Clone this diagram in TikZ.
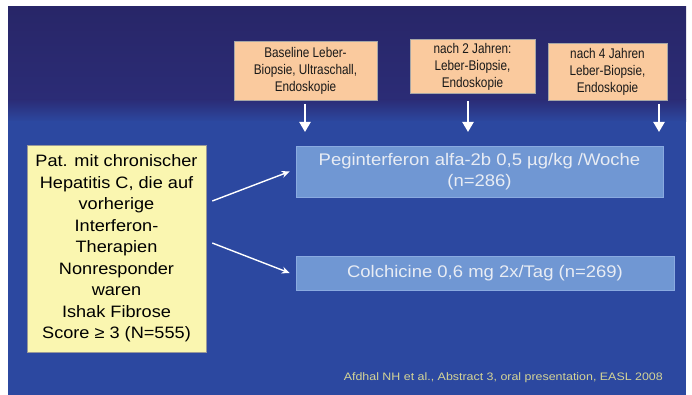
\documentclass[tikz,border=0pt]{standalone}
\usepackage{fontspec}
\setmainfont{Liberation Sans}
\newfontfamily\orfont[FakeStretch=0.84]{Liberation Sans}
\newfontfamily\widefont[FakeStretch=1.1]{Liberation Sans}
\newfontfamily\citefont[FakeStretch=1.15]{Liberation Sans}
\usetikzlibrary{arrows.meta,calc}
\definecolor{navytop}{RGB}{40,38,104}
\definecolor{navymid}{RGB}{43,44,118}
\definecolor{bluebot}{RGB}{44,72,160}
\definecolor{peach}{RGB}{250,202,158}
\definecolor{paleyellow}{RGB}{250,246,176}
\definecolor{boxblue}{RGB}{112,151,211}
\definecolor{boxblueedge}{RGB}{138,170,224}
\definecolor{citecol}{RGB}{212,212,150}
\definecolor{txtlight}{RGB}{232,236,244}
\tikzset{
  orbox/.style={draw=black!35, line width=0.5pt, fill=peach, align=center,
    inner sep=0pt, font=\orfont\fontsize{14}{17}\selectfont, text=black!90},
  ybox/.style={draw=black!40, line width=0.5pt, fill=paleyellow, align=center,
    inner sep=0pt, font=\widefont\fontsize{16.5}{21.5}\selectfont, text=black},
  bbox/.style={draw=boxblueedge, line width=0.6pt, fill=boxblue, align=center,
    inner sep=0pt, font=\widefont\fontsize{16.8}{21}\selectfont, text=txtlight},
  downarrow/.style={draw=white, line width=2.2pt, -{Triangle[width=11pt,length=10pt]}},
  diagarrow/.style={draw=white, line width=1.4pt, -{Stealth[width=7pt,length=8pt]}},
}
\begin{document}
\begin{tikzpicture}[x=1pt,y=-1pt]
\useasboundingbox (0,0) rectangle (692,395);
\fill[white] (0,0) rectangle (692,395);
% background
\shade[top color=navytop, bottom color=navymid] (8,7) rectangle (686,100);
\shade[top color=navymid, bottom color=bluebot] (8,99.5) rectangle (686,122);
\fill[bluebot] (8,121.5) rectangle (686,395);

% orange boxes
\node[orbox, minimum width=143pt, minimum height=59pt] (o1) at (305.5,70.5)
  {Baseline Leber-\\Biopsie, Ultraschall,\\Endoskopie};
\node[orbox, minimum width=125pt, minimum height=54pt] (o2) at (472.5,66.5)
  {nach 2 Jahren:\\Leber-Biopsie,\\Endoskopie};
\node[orbox, minimum width=119pt, minimum height=57pt] (o3) at (607.5,71.5)
  {nach 4 Jahren\\Leber-Biopsie,\\Endoskopie};

% down arrows
\coordinate (a1s) at (305,104); \coordinate (a1e) at (305,132);
\coordinate (a2s) at (468,101); \coordinate (a2e) at (468,132);
\coordinate (a3s) at (659,104); \coordinate (a3e) at (659,132);
\draw[downarrow] (a1s) -- (a1e);
\draw[downarrow] (a2s) -- (a2e);
\draw[downarrow] (a3s) -- (a3e);

% yellow box
\node[ybox, minimum width=179pt, minimum height=207pt] (pat) at (116.5,248.5)
  {Pat. mit chronischer\\Hepatitis C, die auf\\vorherige\\Interferon-\\Therapien\\Nonresponder\\waren\\Ishak Fibrose\\Score ≥ 3 (N=555)};

% blue boxes
\node[bbox, minimum width=367pt, minimum height=51pt] (peg) at (479.5,171.5)
  {Peginterferon alfa-2b 0,5 µg/kg /Woche\\(n=286)};
\node[bbox, minimum width=378pt, minimum height=34pt] (col) at (485,273)
  {Colchicine 0,6 mg 2x/Tag (n=269)};

% diagonal arrows
\draw[diagarrow] ($(pat.east)+(6,-47.5)$) -- ($(peg.west)+(-6,0)$);
\draw[diagarrow] ($(pat.east)+(6,-5.5)$) -- ($(col.west)+(-6,0)$);

% citation
\node[anchor=east, inner sep=0pt, text=citecol, font=\citefont\fontsize{10.8}{12}\selectfont] (cite) at (663,378)
  {Afdhal NH et al., Abstract 3, oral presentation, EASL 2008};
\end{tikzpicture}
\end{document}
